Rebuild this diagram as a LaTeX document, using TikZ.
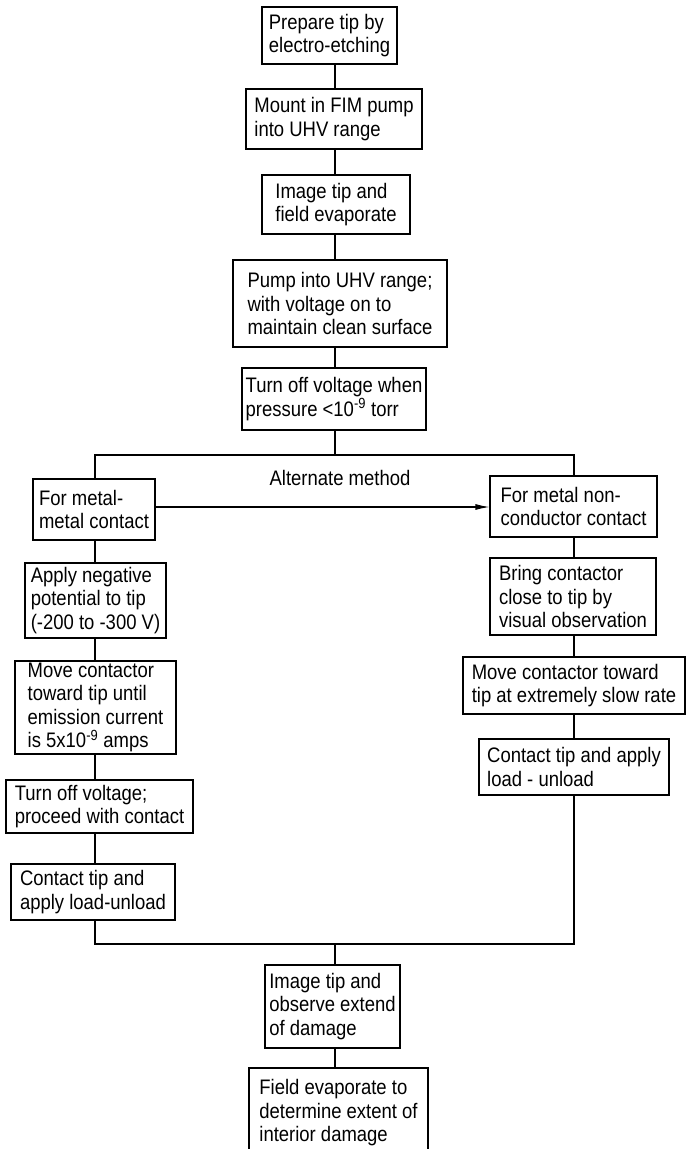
\documentclass[tikz,border=0pt]{standalone}
\usepackage{fontspec}
\setmainfont[FakeStretch=0.88]{Liberation Sans}
\usetikzlibrary{arrows.meta}
\newcommand{\fsz}{\fontsize{21}{23.5}\selectfont}
\tikzset{
  stepbox/.style={draw, line width=1.1pt, align=left, inner sep=1pt, font=\fsz},
  conn/.style={line width=1.1pt},
  lbl/.style={font=\fsz, inner sep=0pt}
}
\begin{document}
\begin{tikzpicture}[x=1pt,y=-1pt]
\useasboundingbox (0,0) rectangle (686,1149);
% main column
\node[stepbox, minimum width=135, minimum height=57] (b1) at (329.5,35.5) {Prepare tip by\\electro-etching};
\node[stepbox, minimum width=176, minimum height=60] (b2) at (334,119) {Mount in FIM pump\\into UHV range};
\node[stepbox, minimum width=148, minimum height=59] (b3) at (336,204.5) {Image tip and\\field evaporate};
\node[stepbox, minimum width=214, minimum height=87] (b4) at (340,303.5) {Pump into UHV range;\\with voltage on to\\maintain clean surface};
\node[stepbox, minimum width=184, minimum height=62] (b5) at (334,399) {Turn off voltage when\\pressure <10\textsuperscript{-9} torr};
% left column
\node[stepbox, minimum width=122, minimum height=61] (l1) at (94,509.5) {For metal-\\metal contact};
\node[stepbox, minimum width=141, minimum height=75] (l2) at (95.5,600.5) {Apply negative\\potential to tip\\(-200 to -300 V)};
\node[stepbox, minimum width=161, minimum height=93] (l3) at (95.5,707.5) {Move contactor\\toward tip until\\emission current\\is 5x10\textsuperscript{-9} amps};
\node[stepbox, minimum width=187, minimum height=53] (l4) at (99.5,806.5) {Turn off voltage;\\proceed with contact};
\node[stepbox, minimum width=164, minimum height=56] (l5) at (93,892) {Contact tip and\\apply load-unload};
% right column
\node[stepbox, minimum width=167, minimum height=61] (r1) at (573.5,506.5) {For metal non-\\conductor contact};
\node[stepbox, minimum width=166, minimum height=77] (r2) at (573,596.5) {Bring contactor\\close to tip by\\visual observation};
\node[stepbox, minimum width=222, minimum height=57] (r3) at (574,685.5) {Move contactor toward\\tip at extremely slow rate};
\node[stepbox, minimum width=190, minimum height=56] (r4) at (574,767) {Contact tip and apply\\load - unload};
% bottom
\node[stepbox, minimum width=135, minimum height=83] (e1) at (332.5,1006.5) {Image tip and\\observe extend\\of damage};
\node[stepbox, minimum width=179, minimum height=90] (e2) at (338.5,1113) {Field evaporate to\\determine extent of\\interior damage};
% junction coordinates
\coordinate (tm) at (335,455);
\coordinate (tl) at (95,455);
\coordinate (tr) at (574,455);
\coordinate (bm) at (335,944);
\coordinate (bl) at (95,944);
\coordinate (br) at (574,944);
% connectors main column
\draw[conn] (b1.south -| tm) -- (b2.north -| tm);
\draw[conn] (b2.south -| tm) -- (b3.north -| tm);
\draw[conn] (b3.south -| tm) -- (b4.north -| tm);
\draw[conn] (b4.south -| tm) -- (b5.north -| tm);
\draw[conn] (b5.south -| tm) -- (tm);
\draw[conn] (l1.north -| tl) -- (tl) -- (tr) -- (r1.north -| tr);
% left column
\draw[conn] (l1.south -| tl) -- (l2.north -| tl);
\draw[conn] (l2.south -| tl) -- (l3.north -| tl);
\draw[conn] (l3.south -| tl) -- (l4.north -| tl);
\draw[conn] (l4.south -| tl) -- (l5.north -| tl);
\draw[conn] (l5.south -| tl) -- (bl) -- (br) -- (r4.south -| tr);
% right column
\draw[conn] (r1.south -| tr) -- (r2.north -| tr);
\draw[conn] (r2.south -| tr) -- (r3.north -| tr);
\draw[conn] (r3.south -| tr) -- (r4.north -| tr);
% bottom
\draw[conn] (bm) -- (e1.north -| bm);
\draw[conn] (e1.south -| bm) -- (e2.north -| bm);
% alternate arrow
\coordinate (am) at (0,507);
\draw[conn, -{Latex[length=14pt,width=6pt]}] (l1.east |- am) -- (r1.west |- am);
\node[lbl] (alt) at (340,478) {Alternate method};
\end{tikzpicture}
\end{document}
